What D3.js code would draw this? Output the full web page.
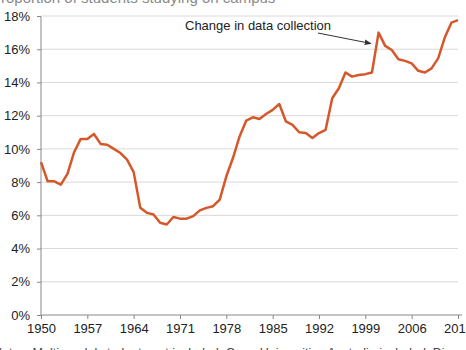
<!DOCTYPE html>
<html><head><meta charset="utf-8">
<script src="https://cdn.jsdelivr.net/npm/d3@7"></script>
<style>html,body{margin:0;padding:0;background:#fff;overflow:hidden}svg{display:block}</style>
</head><body>
<svg id="c" width="466" height="350"></svg>
<script>
const years = d3.range(1950, 2014);
const values = [9.2,8.05,8.05,7.85,8.5,9.8,10.6,10.6,10.9,10.3,
  10.25,10.0,9.75,9.35,8.6,6.45,6.15,6.05,5.55,5.45,
  5.9,5.8,5.8,5.95,6.3,6.45,6.55,6.95,8.35,9.45,
  10.75,11.7,11.9,11.8,12.1,12.35,12.7,11.65,11.45,11.0,
  10.95,10.65,10.95,11.15,13.05,13.65,14.6,14.35,14.45,14.5,
  14.6,17.0,16.2,15.95,15.4,15.3,15.15,14.7,14.6,14.85,
  15.45,16.7,17.6,17.75];
const xTicks = d3.range(1950, 2014, 7);
const yTicks = d3.range(0, 19, 2);
const title = "Proportion of students studying on campus";
const note = "Notes: Multi-modal students not included. Open Universities Australia included. Discontinuity in 2001.";
const annotation = "Change in data collection";

const svg = d3.select("#c");
const x = d3.scaleLinear().domain([1950, 2013]).range([41, 458]);
const y = d3.scaleLinear().domain([0, 18]).range([315, 16]);
const font = "'Liberation Sans', Arial, sans-serif";

svg.append("defs").append("marker").attr("id","ah").attr("viewBox","0 0 10 10")
  .attr("refX",9).attr("refY",5).attr("markerWidth",7).attr("markerHeight",7)
  .attr("orient","auto").append("path").attr("d","M0,1 L10,5 L0,9 z").attr("fill","#333");

// gridlines
svg.append("g").selectAll("line").data(yTicks.filter(d=>d>0)).join("line")
  .attr("x1", 41).attr("x2", 458).attr("y1", d=>y(d)).attr("y2", d=>y(d))
  .attr("stroke", "#d9d9d9").attr("stroke-width", 1);

// y axis
const ya = svg.append("g").attr("transform","translate(41,0)")
  .call(d3.axisLeft(y).tickValues(yTicks).tickFormat(d=>d+"%").tickSize(4).tickPadding(7));
ya.select(".domain").attr("stroke","#888").attr("d","M-4,16.5H0V315");
ya.selectAll(".tick line").attr("stroke","#888");
ya.selectAll("text").attr("font-family",font).attr("font-size",13).attr("fill","#222");

// x axis
const xa = svg.append("g").attr("transform","translate(0,315)")
  .call(d3.axisBottom(x).tickValues(xTicks).tickFormat(d3.format("d")).tickSize(4).tickPadding(5));
xa.select(".domain").attr("stroke","#888").attr("d","M41,0H462");
xa.selectAll(".tick line").attr("stroke","#888");
xa.selectAll("text").attr("font-family",font).attr("font-size",13).attr("fill","#222");

// line
svg.append("path").datum(years.map((yr,i)=>[yr, values[i]]))
  .attr("fill","none").attr("stroke","#D5582A").attr("stroke-width",2.5)
  .attr("stroke-linejoin","round")
  .attr("d", d3.line().x(d=>x(d[0])).y(d=>y(d[1])));

// annotation
svg.append("text").attr("x",185).attr("y",30).attr("font-family",font).attr("font-size",13)
  .attr("fill","#222").text(annotation);
svg.append("line").attr("x1",318).attr("y1",33).attr("x2",371).attr("y2",43.5)
  .attr("stroke","#333").attr("stroke-width",1).attr("marker-end","url(#ah)");

// title & note (cut off by page edges, as in the reference)
svg.append("text").attr("x",-9).attr("y",3).attr("font-family",font).attr("font-size",15)
  .attr("fill","#8a8a8a").text(title);
svg.append("text").attr("x",-7).attr("y",357).attr("font-family",font).attr("font-size",12.5)
  .attr("fill","#444").text(note);
</script>
</body></html>
